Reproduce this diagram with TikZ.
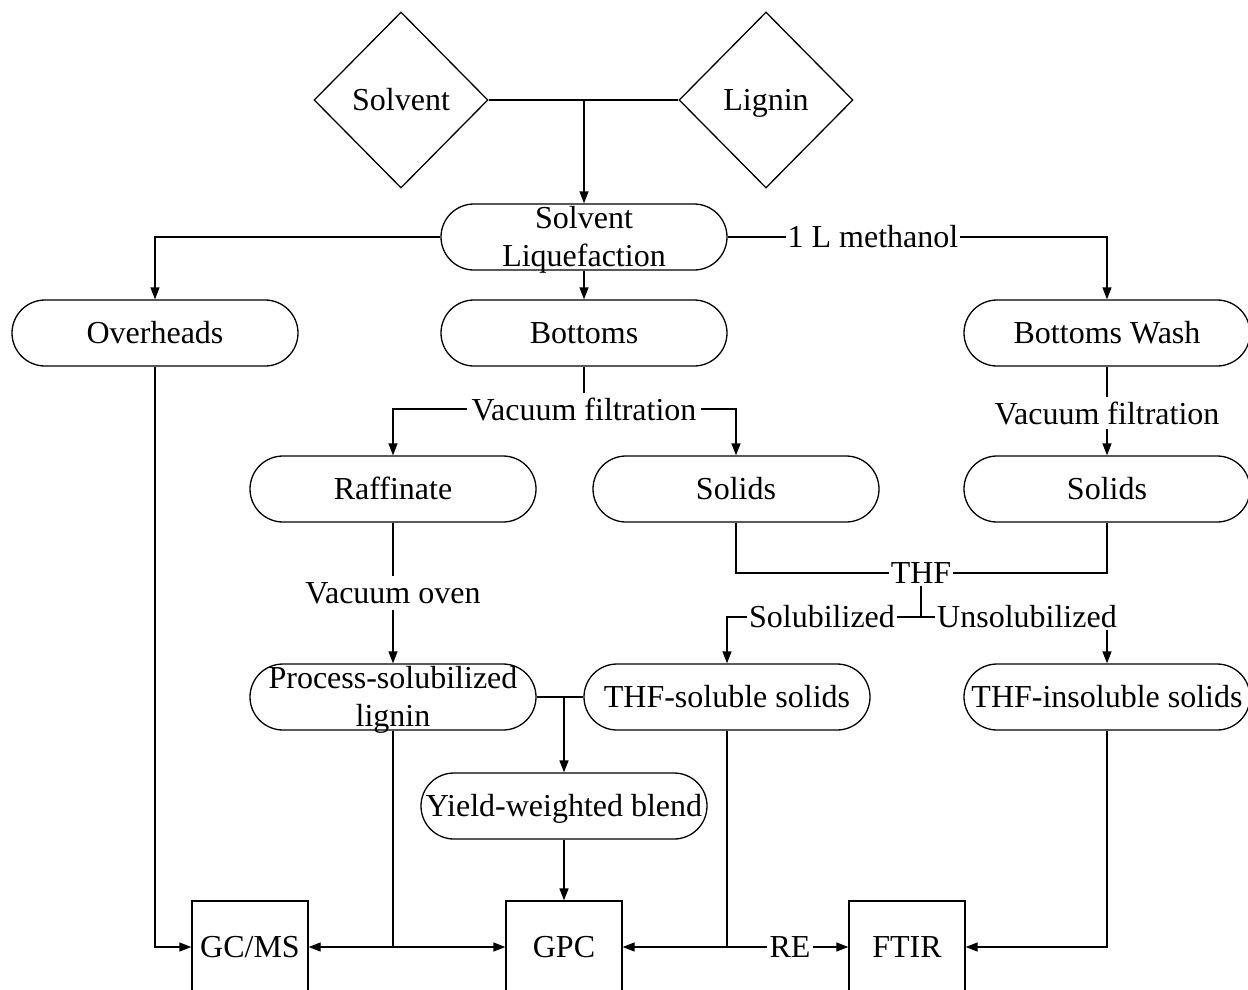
\documentclass[tikz,border=0pt]{standalone}
\usepackage{fontspec}
\setmainfont{Liberation Serif}
\usetikzlibrary{shapes.geometric,arrows.meta}
\newcommand{\twolines}[2]{\raisebox{-9pt}[0pt][0pt]{\begin{tabular}{@{}c@{}}#1\\#2\end{tabular}}}
\begin{document}
\begin{tikzpicture}[x=1pt,y=-1pt,
  line width=1.3pt,
  every node/.style={font=\fontsize{32}{38}\selectfont},
  pill/.style={draw,rectangle,rounded corners=33pt,minimum width=286pt,minimum height=66pt,inner sep=0pt,align=center},
  pillone/.style={pill,text height=22pt,text depth=1pt},
  dia/.style={draw,diamond,minimum width=174pt,minimum height=176pt,inner sep=0pt,text height=22pt,text depth=1pt},
  box/.style={draw,rectangle,minimum width=116pt,minimum height=92pt,inner sep=0pt,text height=22pt,text depth=1pt},
  lbl/.style={inner sep=1.5pt},
  arr/.style={-{Triangle[length=12pt,width=9pt]}},
]
\useasboundingbox (0,0) rectangle (1248,989);
\clip (0,0) rectangle (1248,989);
% shapes
\node[dia] (solv) at (401,100) {Solvent};
\node[dia] (lig) at (766,100) {Lignin};
\node[pill] (sl) at (584,237) {\twolines{Solvent}{Liquefaction}};
\node[pillone] (ov) at (155,333) {Overheads};
\node[pillone] (bo) at (584,333) {Bottoms};
\node[pillone] (bw) at (1107,333) {Bottoms Wash};
\node[pillone] (raf) at (393,489) {Raffinate};
\node[pillone] (s1) at (736,489) {Solids};
\node[pillone] (s2) at (1107,489) {Solids};
\node[pill] (psl) at (393,697) {\twolines{Process-solubilized}{lignin}};
\node[pillone] (ts) at (727,697) {THF-soluble solids};
\node[pillone] (ti) at (1107,697) {THF-insoluble solids};
\node[pillone] (yw) at (564,806) {Yield-weighted blend};
\node[box] (gc) at (250,947) {GC/MS};
\node[box] (gpc) at (564,947) {GPC};
\node[box] (ft) at (907,947) {FTIR};
% labels
\node[lbl] (meth) at (873,237) {1 L methanol};
\node[lbl,inner sep=4pt] (vf1) at (584,409) {Vacuum filtration};
\node[lbl,inner sep=4pt] (vf2) at (1107,413) {Vacuum filtration};
\node[lbl] (thf) at (921,573) {THF};
\node[lbl] (sol) at (822,617) {Solubilized};
\node[lbl] (uns) at (1027,617) {Unsolubilized};
\node[lbl,inner sep=6pt] (vo) at (393,593) {Vacuum oven};
\node[lbl] (re) at (790,947) {RE};
% connectors
\coordinate (jtop) at (solv.east -| sl.north);
\draw (solv.east) -- (lig.west);
\draw[arr] (jtop) -- (sl.north);
\draw[arr] (sl.west) -| (ov.north);
\draw[arr] (sl.south) -- (bo.north);
\draw (sl.east) -- (meth.west);
\draw[arr] (meth.east) -| (bw.north);
\draw (bo.south) -- (vf1.north);
\draw[arr] (vf1.west) -| (raf.north);
\draw[arr] (vf1.east) -| (s1.north);
\draw (bw.south) -- (vf2.north);
\draw[arr] (vf2.south) -- (s2.north);
\draw (s1.south) |- (thf.west);
\draw (s2.south) |- (thf.east);
\coordinate (j) at (921,617);
\draw (thf.south) -- (j);
\draw (j) -- (sol.east);
\draw[arr] (sol.west) -| (ts.north);
\draw (j) -- (uns.west);
\draw[arr] (uns.south -| ti.north) -- (ti.north);
\draw (raf.south) -- (vo.north);
\draw[arr] (vo.south) -- (psl.north);
\draw (psl.east) -- (ts.west);
\draw[arr] (psl.east -| yw.north) -- (yw.north);
\draw[arr] (yw.south) -- (gpc.north);
\draw[arr] (ov.south) |- (gc.west);
\coordinate (jp) at (psl.south |- gc.east);
\draw (psl.south) -- (jp);
\draw[arr] (jp) -- (gc.east);
\draw[arr] (jp) -- (gpc.west);
\coordinate (jt) at (ts.south |- gpc.east);
\draw (ts.south) -- (jt);
\draw[arr] (jt) -- (gpc.east);
\draw (jt) -- (re.west);
\draw[arr] (re.east) -- (ft.west);
\draw[arr] (ti.south) |- (ft.east);
\end{tikzpicture}
\end{document}
